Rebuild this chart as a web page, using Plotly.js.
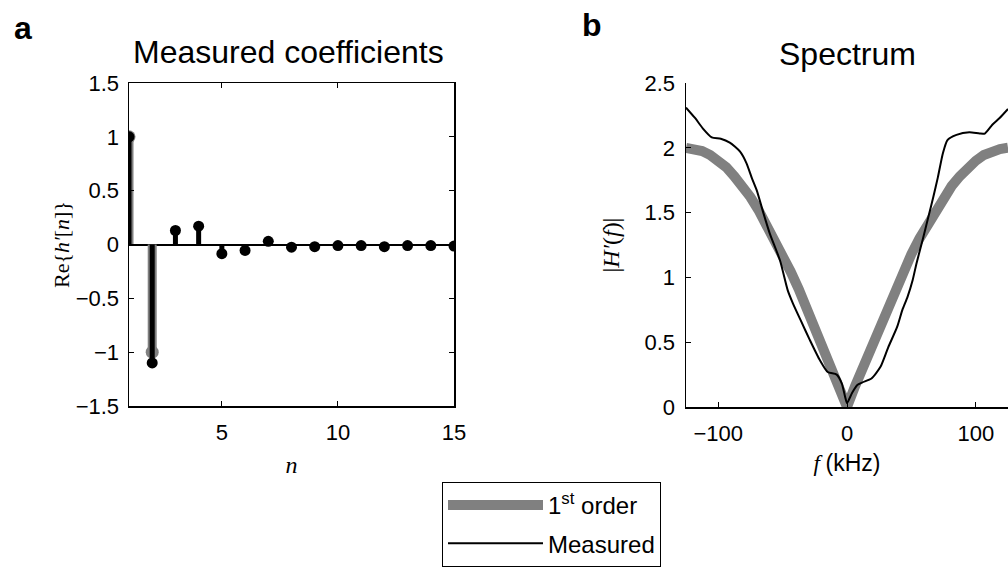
<!DOCTYPE html>
<html><head><meta charset="utf-8">
<script src="https://cdn.plot.ly/plotly-3.0.1.min.js"></script>
<style>html,body{margin:0;padding:0;background:#fff}#chart{width:1008px;height:568px}</style>
</head><body><div id="chart"></div>
<script>
// ---- Panel a: coefficients ----
const nIdx = [1,2,3,4,5,6,7,8,9,10,11,12,13,14,15];
const measuredCoef = [1.0,-1.1,0.13,0.17,-0.085,-0.055,0.03,-0.025,-0.02,-0.01,-0.01,-0.02,-0.01,-0.01,-0.015];
const firstOrderN = [1,2];
const firstOrderCoef = [1,-1];
// ---- Panel b: spectrum ----
const freqFirst = [-125,-118.75,-112.5,-106.25,-100,-93.75,-87.5,-81.25,-75,-68.75,-62.5,-56.25,-50,-43.75,-37.5,-31.25,-25,-18.75,-12.5,-6.25,0,6.25,12.5,18.75,25,31.25,37.5,43.75,50,56.25,62.5,68.75,75,81.25,87.5,93.75,100,106.25,112.5,118.75,125];
const magFirst  = [2.0,1.99,1.975,1.945,1.90,1.85,1.78,1.705,1.62,1.52,1.41,1.30,1.18,1.045,0.91,0.765,0.62,0.47,0.31,0.16,0,0.16,0.31,0.47,0.62,0.765,0.91,1.045,1.18,1.30,1.41,1.52,1.62,1.705,1.78,1.85,1.90,1.945,1.975,1.99,2.0];
const freqMeas = [-125,-118,-112,-105,-98,-91,-83,-78,-74,-70,-65,-60,-52,-46,-42,-36,-29,-21,-15,-8,-4,-1.5,0,4,8,12,19,26,32,39,43,47,51,54,59,63,67,70.5,74.5,78,85,95,103,107,113,118.5,125];
const magMeas  = [2.31,2.23,2.15,2.08,2.07,2.04,1.97,1.88,1.77,1.67,1.50,1.34,1.13,0.90,0.80,0.67,0.52,0.36,0.27,0.25,0.18,0.08,0.03,0.11,0.17,0.19,0.22,0.31,0.46,0.62,0.75,0.85,0.98,1.11,1.30,1.46,1.62,1.77,1.96,2.06,2.10,2.12,2.11,2.11,2.18,2.23,2.30];
const legendNames = ['1<sup>st</sup> order','Measured'];

const GRAY = 'rgb(128,128,128)';
const SANS = 'Liberation Sans, Arial, sans-serif';
const SERIF = 'Liberation Serif, Times New Roman, serif';

function stems(xs, ys){
  const sx=[], sy=[];
  xs.forEach((x,i)=>{ sx.push(x,x,null); sy.push(0,ys[i],null); });
  return {sx, sy};
}
const gs = stems(firstOrderN, firstOrderCoef);
const ms = stems(nIdx, measuredCoef);

const traces = [
  {x: gs.sx, y: gs.sy, xaxis:'x', yaxis:'y', mode:'lines', line:{color:GRAY, width:9}, showlegend:false, hoverinfo:'skip'},
  {x: firstOrderN, y: firstOrderCoef, xaxis:'x', yaxis:'y', mode:'markers', marker:{color:GRAY, size:13}, showlegend:false},
  {x: ms.sx, y: ms.sy, xaxis:'x', yaxis:'y', mode:'lines', line:{color:'black', width:5}, showlegend:false, hoverinfo:'skip'},
  {x: nIdx, y: measuredCoef, xaxis:'x', yaxis:'y', mode:'markers', marker:{color:'black', size:11}, showlegend:false},
  {x: freqFirst, y: magFirst, xaxis:'x2', yaxis:'y2', mode:'lines', line:{color:GRAY, width:10}, name: legendNames[0], legendgroup:'g1'},
  {x: freqMeas, y: magMeas, xaxis:'x2', yaxis:'y2', mode:'lines', line:{color:'black', width:2, shape:'spline', smoothing:0.6}, name: legendNames[1], legendgroup:'g2'}
];

const tickFont = {family:SANS, size:22, color:'black'};
const axCommon = {showgrid:false, showline:true, linecolor:'black', linewidth:1.5, ticks:'inside', ticklen:5, tickwidth:1, tickcolor:'black', tickfont:tickFont, automargin:false, fixedrange:true};

const layout = {
  width:1008, height:568,
  margin:{l:0,r:0,t:0,b:0},
  paper_bgcolor:'white', plot_bgcolor:'white',
  font:{family:SANS, color:'black'},
  showlegend:true,
  legend:{x:442/1008, y:(568-482)/568, xanchor:'left', yanchor:'top', bordercolor:'black', borderwidth:1, bgcolor:'white', font:{family:SANS, size:24, color:'black'}, itemwidth:95, traceorder:'grouped', tracegroupgap:4},
  xaxis: Object.assign({}, axCommon, {domain:[129/1008, 454/1008], range:[1,15], tickvals:[5,10,15], mirror:'ticks', zeroline:false, ticklabelstandoff:6,
    title:{text:'<i>n</i>', font:{family:SERIF, size:24}, standoff:12}}),
  yaxis: Object.assign({}, axCommon, {domain:[(568-406)/568, (568-83)/568], range:[-1.5,1.5], dtick:0.5, tick0:0, mirror:'ticks', zeroline:true, zerolinecolor:'black', zerolinewidth:2, ticklabelstandoff:4,
    title:{text:'Re{<i>h′</i>[<i>n</i>]}', font:{family:SERIF, size:22}, standoff:-4}}),
  xaxis2: Object.assign({}, axCommon, {domain:[686/1008, 1], range:[-125,125], tickvals:[-100,0,100], mirror:false, zeroline:false, ticklabelstandoff:6, anchor:'y2',
    title:{text:'<i>f</i> <span style="font-family:Liberation Sans">(kHz)</span>', font:{family:SERIF, size:23}, standoff:10}}),
  yaxis2: Object.assign({}, axCommon, {domain:[(568-407)/568, (568-83)/568], range:[0,2.5], dtick:0.5, tick0:0, mirror:false, zeroline:false, ticklabelstandoff:5, anchor:'x2',
    title:{text:'|<i>H′</i>(<i>f</i>)|', font:{family:SERIF, size:24}, standoff:18}}),
  annotations:[
    {text:'<b>a</b>', xref:'paper', yref:'paper', x:12/1008, y:(568-28)/568, xanchor:'left', yanchor:'middle', showarrow:false, font:{family:SANS, size:32}},
    {text:'<b>b</b>', xref:'paper', yref:'paper', x:580/1008, y:(568-25)/568, xanchor:'left', yanchor:'middle', showarrow:false, font:{family:SANS, size:32}},
    {text:'Measured coefficients', xref:'paper', yref:'paper', x:288/1008, y:(568-52)/568, xanchor:'center', yanchor:'middle', showarrow:false, font:{family:SANS, size:32}},
    {text:'Spectrum', xref:'paper', yref:'paper', x:847/1008, y:(568-54)/568, xanchor:'center', yanchor:'middle', showarrow:false, font:{family:SANS, size:32}}
  ]
};
Plotly.newPlot('chart', traces, layout, {displayModeBar:false, staticPlot:true});
</script></body></html>
